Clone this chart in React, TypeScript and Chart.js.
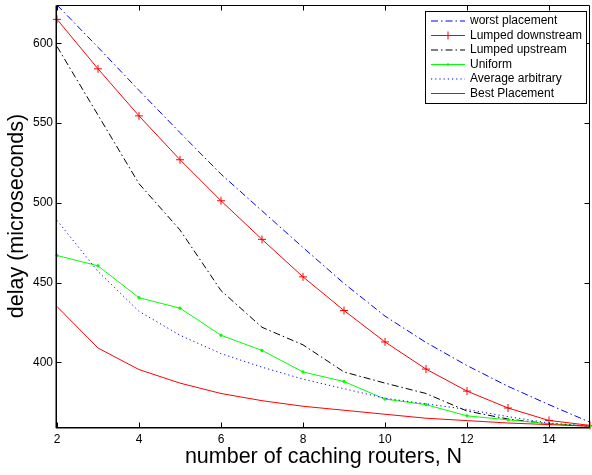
import React, { useEffect, useRef } from "react";
import { Chart, registerables } from "chart.js";

Chart.register(...registerables);

const N = [2, 3, 4, 5, 6, 7, 8, 9, 10, 11, 12, 13, 14, 15];
const worstPlacement = [624, 597.5, 570.5, 544, 518, 495, 472, 449.5, 429, 412.5, 398, 385, 373.5, 362.5];
const lumpedDownstream = [615, 584, 554.5, 527, 501.3, 477.1, 453.6, 432.5, 412.8, 395.8, 382, 371.4, 363.6, 360.5];
const lumpedUpstream = [598, 555, 512, 483, 445, 422, 411, 394, 387, 380.5, 369.5, 364.5, 361.5, 360];
const uniform = [467, 460.5, 440.5, 434, 417, 407.5, 394, 388, 377, 373.5, 366.5, 364, 361.5, 360];
const averageArbitrary = [489, 457, 432, 417, 405.5, 397, 389.5, 383.5, 377.5, 374, 370.5, 366, 362, 360];
const bestPlacement = [435, 409, 395.5, 387, 380.5, 376, 372.5, 370, 367.5, 365, 363.5, 362, 361, 360];

const xTicks = [2, 4, 6, 8, 10, 12, 14];
const yTicks = [400, 450, 500, 550, 600];
const seriesNames = [
  "worst placement",
  "Lumped downstream",
  "Lumped upstream",
  "Uniform",
  "Average arbitrary",
  "Best Placement",
];
const xTitle = "number of caching routers, N";
const yTitle = "delay (microseconds)";

const FONT = '"Liberation Sans", Arial, Helvetica, sans-serif';

type Style = { color: string; dash: number[]; marker: "none" | "cross" | "dot" };
const styles: Style[] = [
  { color: "#0000ff", dash: [7, 3, 1.5, 3], marker: "none" },
  { color: "#ff0000", dash: [], marker: "cross" },
  { color: "#000000", dash: [7, 3, 1.5, 3], marker: "none" },
  { color: "#00ff00", dash: [], marker: "dot" },
  { color: "#0000ff", dash: [1.2, 3], marker: "none" },
  { color: "#ff0000", dash: [], marker: "none" },
];

const seriesValues = [worstPlacement, lumpedDownstream, lumpedUpstream, uniform, averageArbitrary, bestPlacement];

const framePlugin = {
  id: "frame",
  afterDatasetsDraw(chart: any) {
    const ctx = chart.ctx as CanvasRenderingContext2D;
    const { left, right, top, bottom } = chart.chartArea;
    const xs = chart.scales.x;
    const ys = chart.scales.y;
    ctx.save();
    ctx.strokeStyle = "#000";
    ctx.lineWidth = 1;
    ctx.setLineDash([]);
    const L = Math.round(left) - 0.5;
    const R = Math.round(right) - 0.5;
    const T = Math.round(top) + 0.5;
    const B = Math.round(bottom) + 0.5;
    ctx.beginPath();
    ctx.moveTo(L, T);
    ctx.lineTo(R, T);
    ctx.lineTo(R, B);
    ctx.lineTo(L, B);
    ctx.closePath();
    ctx.stroke();
    // slightly heavier left and bottom axes
    ctx.beginPath();
    ctx.moveTo(L - 0.5, T);
    ctx.lineTo(L - 0.5, B + 0.5);
    ctx.lineTo(R, B + 0.5);
    ctx.stroke();
    const tl = 5;
    ctx.beginPath();
    for (const v of xTicks) {
      const px = Math.round(xs.getPixelForValue(v)) + 0.5;
      ctx.moveTo(px, B);
      ctx.lineTo(px, B - tl);
      ctx.moveTo(px, T);
      ctx.lineTo(px, T + tl);
    }
    for (const v of yTicks) {
      const py = Math.round(ys.getPixelForValue(v)) + 0.5;
      ctx.moveTo(L, py);
      ctx.lineTo(L + tl, py);
      ctx.moveTo(R, py);
      ctx.lineTo(R - tl, py);
    }
    ctx.stroke();

    // legend
    const bx = 425.5, by = 11.5, bw = 161, bh = 92;
    ctx.fillStyle = "#fff";
    ctx.fillRect(bx, by, bw, bh);
    ctx.strokeStyle = "#000";
    ctx.strokeRect(bx, by, bw, bh);
    ctx.font = `12px ${FONT}`;
    ctx.textBaseline = "middle";
    ctx.textAlign = "left";
    seriesNames.forEach((name, i) => {
      const y = 21 + i * 14.5;
      const st = styles[i];
      ctx.strokeStyle = st.color;
      ctx.lineWidth = 1;
      ctx.setLineDash(st.dash);
      ctx.beginPath();
      ctx.moveTo(431, y);
      ctx.lineTo(465, y);
      ctx.stroke();
      ctx.setLineDash([]);
      const mx = 448;
      if (st.marker === "cross") {
        ctx.beginPath();
        ctx.moveTo(mx - 4, y);
        ctx.lineTo(mx + 4, y);
        ctx.moveTo(mx, y - 4);
        ctx.lineTo(mx, y + 4);
        ctx.stroke();
      } else if (st.marker === "dot") {
        ctx.fillStyle = st.color;
        ctx.beginPath();
        ctx.arc(mx, y, 1.2, 0, Math.PI * 2);
        ctx.fill();
      }
      ctx.fillStyle = "#000";
      ctx.fillText(name, 470, y);
    });
    ctx.restore();
  },
};

export default function App() {
  const ref = useRef<HTMLCanvasElement | null>(null);
  useEffect(() => {
    if (!ref.current) return;
    const datasets = seriesValues.map((vals, i) => {
      const st = styles[i];
      return {
        label: seriesNames[i],
        data: N.map((n, j) => ({ x: n, y: vals[j] })),
        borderColor: st.color,
        backgroundColor: st.color,
        borderWidth: 1,
        borderDash: st.dash,
        pointStyle: st.marker === "cross" ? "cross" : "circle",
        pointRadius: st.marker === "cross" ? 4 : st.marker === "dot" ? 1.2 : 0,
        pointBorderWidth: 1,
        pointHoverRadius: 0,
        tension: 0,
        fill: false,
        clip: false as any,
        order: seriesNames.length - i,
      };
    });
    const chart = new Chart(ref.current, {
      type: "line",
      data: { datasets },
      plugins: [framePlugin],
      options: {
        animation: false,
        responsive: false,
        devicePixelRatio: 1,
        events: [],
        layout: { padding: { left: 0, right: 2, top: 5, bottom: 0 } },
        plugins: { legend: { display: false }, tooltip: { enabled: false }, title: { display: false } },
        scales: {
          x: {
            type: "linear",
            min: 2,
            max: 15,
            grid: { display: false, drawTicks: false },
            border: { display: false },
            ticks: { color: "#000", font: { family: FONT, size: 12 }, padding: 5, maxRotation: 0 },
            title: {
              display: true,
              text: xTitle,
              color: "#000",
              font: { family: FONT, size: 21.5 },
              padding: { top: 0, bottom: 5 },
            },
            afterBuildTicks: (s: any) => {
              s.ticks = xTicks.map((v) => ({ value: v }));
            },
            afterFit: (s: any) => {
              s.height = 48;
              s.paddingLeft = 0;
              s.paddingRight = 0;
            },
          },
          y: {
            type: "linear",
            min: 359.5,
            max: 624,
            grid: { display: false, drawTicks: false },
            border: { display: false },
            ticks: { color: "#000", font: { family: FONT, size: 12 }, padding: 4 },
            title: {
              display: true,
              text: yTitle,
              color: "#000",
              font: { family: FONT, size: 21.5 },
              padding: { top: 4.5, bottom: 0 },
            },
            afterBuildTicks: (s: any) => {
              s.ticks = yTicks.map((v) => ({ value: v }));
            },
            afterFit: (s: any) => {
              s.width = 57;
              s.paddingTop = 0;
              s.paddingBottom = 0;
            },
          },
        },
      } as any,
    });
    return () => chart.destroy();
  }, []);
  return (
    <div style={{ position: "fixed", left: 0, top: 0, width: 592, height: 475, overflow: "hidden", background: "#fff" }}>
      <div style={{ width: 595, height: 475 }}>
        <canvas ref={ref} width={595} height={475} style={{ display: "block" }} />
      </div>
    </div>
  );
}
